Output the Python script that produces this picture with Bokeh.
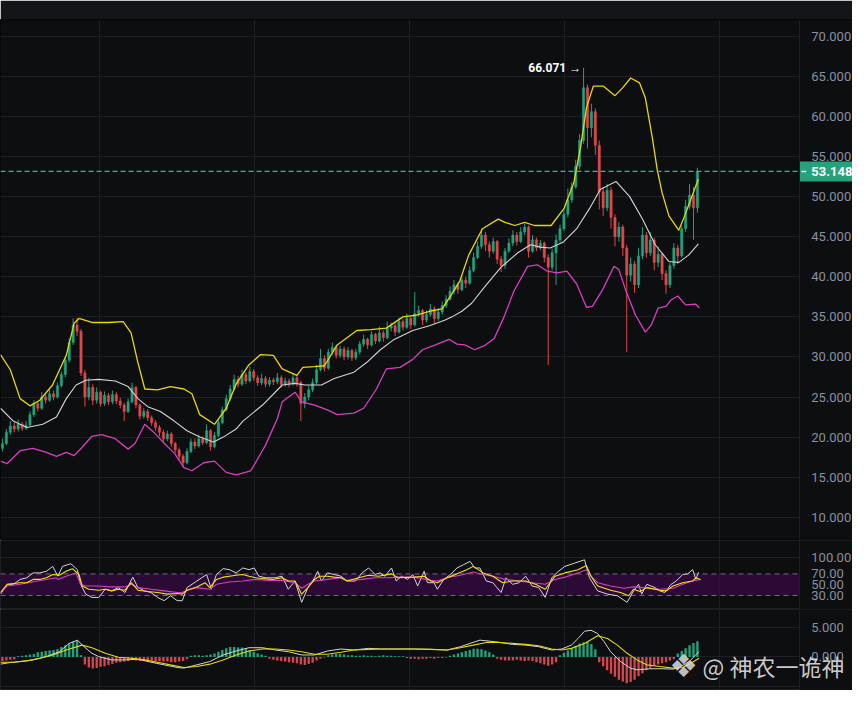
from bokeh.plotting import figure
from bokeh.layouts import column
from bokeh.models import (Range1d, FixedTicker, Span, Label, BoxAnnotation, ColumnDataSource)
from bokeh.core.properties import value
from bokeh.embed import file_html
from bokeh.resources import INLINE

# ---------------- data ----------------
open_first = 18.6
closes = [
    19.2, 20.6, 21.4, 21.0, 21.6, 21.1, 21.5, 22.8, 24.2, 23.6,
    25.0, 24.6, 25.4, 25.0, 26.4, 27.8, 29.6, 31.8, 34.0, 33.2,
    28.0, 25.0, 26.2, 24.6, 25.6, 24.2, 25.2, 24.4, 25.3, 24.5,
    24.0, 23.2, 24.4, 26.2, 24.0, 22.6, 23.2, 22.4, 21.8, 21.2,
    20.6, 19.8, 20.4, 19.2, 18.4, 17.6, 16.8, 18.2, 19.4, 18.9,
    19.8, 19.3, 20.8, 18.8, 20.2, 21.8, 23.4, 24.8, 26.0, 27.2,
    26.6, 27.8, 27.0, 28.2, 27.4, 26.8, 27.3, 26.6, 27.1, 26.9,
    27.4, 26.6, 27.0, 26.7, 27.4, 26.8, 24.2, 25.0, 25.9, 26.8,
    28.4, 29.8, 28.6, 30.6, 31.2, 30.2, 31.0, 30.0, 30.8, 29.9,
    30.6, 31.6, 32.2, 31.5, 32.8, 32.0, 33.0, 32.4, 33.6, 33.9,
    33.1, 34.4, 33.7, 34.8, 34.0, 35.4, 35.8, 34.6, 35.3, 36.0,
    34.8, 35.6, 36.4, 37.2, 38.2, 39.0, 38.4, 39.6, 39.2, 40.8,
    42.4, 43.8, 45.2, 44.0, 43.2, 44.4, 42.2, 41.4, 43.2, 44.2,
    45.2, 44.4, 45.6, 46.2, 43.2, 44.6, 43.6, 44.2, 42.4, 41.2,
    43.0, 44.6, 46.0, 47.8, 49.6, 51.2, 53.8, 57.0, 63.6, 58.6,
    60.6, 56.4, 50.6, 48.6, 50.8, 47.4, 45.0, 46.2, 43.6, 40.2,
    41.6, 39.0, 42.6, 45.2, 43.0, 44.6, 41.8, 42.8, 40.4, 39.0,
    41.4, 43.6, 42.6, 46.0, 48.8, 50.2, 48.6, 53.148]
highs = [
    19.8, 21.0, 22.0, 21.8, 22.2, 21.9, 22.0, 23.2, 24.6, 24.5,
    25.6, 25.3, 25.9, 25.8, 26.8, 28.2, 30.0, 32.3, 34.8, 34.9,
    33.5, 28.4, 27.4, 26.6, 26.2, 25.8, 25.7, 25.5, 25.8, 25.6,
    24.9, 24.3, 24.8, 26.8, 26.4, 24.2, 23.6, 23.5, 22.7, 22.1,
    21.5, 20.9, 20.8, 20.6, 19.4, 18.7, 17.9, 18.6, 19.8, 19.8,
    20.3, 20.1, 21.6, 21.0, 20.6, 22.2, 23.8, 25.3, 26.5, 27.8,
    27.6, 28.4, 28.1, 28.8, 28.5, 27.7, 27.9, 27.6, 27.5, 27.4,
    28.0, 27.7, 27.4, 27.3, 27.9, 27.7, 27.0, 25.5, 26.4, 27.3,
    29.0, 31.0, 30.2, 31.0, 31.8, 31.5, 31.4, 31.3, 31.2, 31.0,
    31.0, 32.0, 32.8, 32.4, 33.2, 33.0, 33.8, 33.3, 34.4, 34.3,
    34.2, 34.9, 34.7, 35.4, 35.0, 38.1, 36.4, 36.0, 35.8, 36.6,
    36.3, 36.1, 36.9, 37.7, 38.8, 39.6, 39.3, 40.2, 40.0, 41.3,
    43.0, 44.4, 46.0, 45.6, 44.4, 44.9, 44.6, 42.6, 43.6, 44.8,
    45.8, 45.6, 46.2, 46.6, 46.4, 45.2, 44.9, 44.6, 44.4, 42.8,
    43.5, 45.3, 46.5, 48.4, 51.0, 51.8, 54.6, 57.8, 66.071, 64.0,
    61.6, 61.0, 57.0, 51.2, 51.6, 51.2, 47.8, 46.8, 46.5, 44.0,
    42.4, 42.0, 43.6, 46.2, 45.6, 45.6, 44.9, 43.8, 43.0, 40.8,
    41.8, 44.2, 44.0, 46.4, 49.6, 51.6, 51.2, 53.6]
lows = [
    18.2, 19.0, 20.3, 20.6, 20.7, 20.8, 20.9, 21.3, 22.5, 23.2,
    23.4, 24.2, 24.4, 24.6, 24.8, 26.2, 27.5, 29.3, 31.5, 32.6,
    27.6, 23.8, 24.6, 24.0, 24.2, 23.8, 23.9, 24.0, 24.1, 24.1,
    23.6, 22.0, 23.0, 24.2, 23.6, 22.2, 22.3, 22.0, 21.4, 20.8,
    20.1, 19.4, 19.5, 18.8, 18.0, 17.1, 16.2, 16.6, 18.0, 18.5,
    18.7, 19.0, 19.1, 18.3, 18.6, 20.0, 21.6, 23.2, 24.5, 25.8,
    26.2, 26.4, 26.6, 26.8, 27.0, 26.4, 26.5, 26.2, 26.3, 26.5,
    26.6, 26.2, 26.3, 26.2, 26.4, 26.3, 22.0, 23.6, 24.6, 25.6,
    26.6, 28.2, 28.2, 28.4, 30.2, 29.8, 29.9, 29.6, 29.7, 29.5,
    29.6, 30.3, 31.3, 31.0, 31.3, 31.6, 31.8, 31.9, 32.2, 33.2,
    32.6, 32.9, 33.3, 33.5, 33.5, 33.8, 35.0, 34.0, 34.3, 35.0,
    34.2, 34.5, 35.3, 36.1, 37.0, 37.8, 37.9, 38.2, 38.6, 39.0,
    40.6, 42.2, 43.5, 43.2, 42.4, 42.9, 41.6, 40.6, 41.0, 43.0,
    43.8, 43.9, 44.2, 45.2, 42.4, 43.0, 43.2, 43.3, 41.8, 29.0,
    40.8, 39.0, 44.3, 45.7, 47.4, 49.2, 51.0, 53.4, 56.6, 56.0,
    57.4, 55.2, 48.4, 47.6, 48.2, 46.0, 43.8, 44.4, 42.6, 30.6,
    39.4, 38.0, 38.6, 42.2, 42.4, 42.6, 40.8, 41.2, 39.6, 37.9,
    38.6, 41.0, 41.6, 42.4, 45.6, 48.4, 44.6, 48.0]

# Bollinger bands (time in candle index, value)
ub_t = [-0.5, 2, 4.5, 7, 9.5, 12.75, 16.25, 18.25, 19.5, 22.75, 27, 30.75, 32.75, 34.5, 36.25,
        39.5, 42.75, 46.25, 48.25, 50.25, 54, 57, 59.5, 62.75, 65.75, 69, 71.25, 75, 76.5, 79.5,
        82, 85.25, 90.25, 93.75, 97.75, 102, 105.25, 108.75, 112, 114.5, 116.5, 118.75, 122.25,
        126.25, 128, 130.5, 133, 135.5, 139.75, 143, 145.5, 147.25, 148.75, 150.5, 153, 156, 158,
        160, 162.25, 163.75, 165.5, 166.75, 168, 169.75, 172.25, 173.75, 177.25]
ub_v = [30.3, 28.4, 24.8, 23.9, 24.6, 26.5, 30.2, 34.2, 34.8, 34.3, 34.3, 34.4, 33.0, 29.3, 26.0,
        25.9, 26.3, 26.0, 25.4, 22.8, 21.6, 23.6, 26.6, 29.0, 30.3, 30.2, 28.5, 27.7, 28.7, 28.8,
        28.9, 31.5, 33.3, 33.4, 33.6, 35.0, 35.2, 35.7, 36.0, 37.9, 39.5, 42.7, 46.0,
        47.2, 46.8, 46.4, 46.8, 46.4, 46.4, 48.5, 51.7, 56.2, 61.1, 63.8, 63.8, 62.6, 63.6,
        64.8, 64.2, 62.3, 57.4, 53.4, 50.5, 47.6, 45.8, 47.6, 52.2]
mb_t = [-0.5, 2.75, 6.25, 10.25, 13.75, 16.25, 18.75, 21.25, 24.5, 28.75, 32, 34.5, 37, 40.25,
        43.75, 47, 50.25, 53.75, 56.25, 59.5, 61.25, 66.25, 71.25, 74.5, 77, 81.25, 84.5, 89.5,
        92.75, 96.25, 99.5, 104.5, 108.75, 112.75, 114.5, 117, 119.5, 122.75, 127, 131.25, 134.5,
        137, 139.5, 142.75, 146.25, 149.5, 152.25, 156.25, 159.75, 163, 166.25, 169.75, 172.25,
        174.75, 177.25]
mb_v = [23.6, 22.0, 21.2, 21.6, 22.5, 24.8, 26.5, 27.1, 27.2, 27.0, 26.3, 24.8, 23.8, 23.2,
        22.0, 20.8, 20.0, 19.4, 20.0, 21.0, 22.0, 24.0, 26.5, 26.7, 26.5, 26.5, 27.3, 28.1,
        29.3, 30.9, 32.1, 33.3, 33.9, 34.6, 35.0, 35.7, 36.7, 38.7, 41.2, 43.0, 44.0,
        43.7, 43.6, 44.3, 46.0, 48.5, 50.9, 51.9, 50.0, 47.2, 44.0, 41.9, 41.8,
        42.7, 44.1]
lb_t = [-0.5, 1.25, 4.5, 7.75, 11.25, 13.75, 16.25, 18.25, 20.25, 22.75, 25.25, 28.75, 32, 33.75,
        36.25, 38.75, 41.25, 43.75, 46.25, 48.25, 51.25, 54, 57, 59.5, 63.25, 67, 70, 71.25, 74.5,
        76.25, 79.5, 82.75, 85.25, 89.5, 92, 95.25, 97.75, 101.25, 104.5, 107, 110.25, 113.75,
        115.75, 117.75, 120.25, 122.75, 125.25, 127.75, 130.25, 133.75, 136.25, 138.75, 141.25,
        143.75, 146.25, 148.75, 150.25, 152.75, 155.75, 157, 158.75, 161.25, 163.75, 165.25, 167,
        169, 170.25, 172, 174, 176.5, 177.5]
lb_v = [17.0, 16.7, 18.3, 18.6, 18.1, 17.6, 18.1, 17.7, 18.7, 20.1, 20.3, 19.8, 18.5, 19.2,
        21.6, 20.5, 19.2, 18.0, 16.2, 15.8, 16.8, 17.0, 15.6, 15.3, 15.8, 19.0, 22.3, 24.4, 25.6,
        24.4, 24.0, 23.4, 22.8, 23.0, 23.6, 26.0, 28.5, 28.7, 29.7, 30.9, 31.5, 32.2,
        31.6, 31.5, 30.9, 31.4, 32.3, 35.0, 38.2, 41.3, 41.5, 40.7, 40.5,
        40.7, 39.1, 36.2, 36.3, 38.3, 41.3, 40.9, 38.3, 35.2, 33.1, 34.0, 36.1,
        36.3, 37.1, 37.6, 36.5, 36.6, 36.1]

# RSI lines
r6_t = [-0.5, 1.2, 2.8, 4.5, 6.2, 7.8, 9.5, 11.2, 12.8, 14.1, 15.3, 17.4, 19.1, 19.9, 21.2, 22.8,
        24.5, 26.2, 27.8, 29.5, 31.2, 33.2, 34.5, 36.2, 37.8, 39.5, 41.2, 42.8, 44.5, 45.8, 47,
        49.5, 52, 53.2, 54.5, 56.2, 57.8, 59.5, 61.2, 62.8, 64.1, 65.3, 67, 69.5, 71.2, 72.8,
        74.5, 76.2, 77.8, 79.5, 80.3, 81.2, 82.8, 84.5, 86.2, 87.8, 89.9, 91.6, 93.25, 94.9,
        96.2, 97.4, 99.1, 100.3, 101.6, 103.25, 104.5, 105.75, 107.4, 108.25, 109.9, 110.75,
        112.4, 114.1, 115.75, 117.4, 119.1, 120.3, 121.6, 123.25, 124.9, 127, 128.25, 129.9,
        131.6, 133.25, 134.9, 136.6, 138.25, 139.9, 141.6, 143.25, 145.75, 148.25, 149.5, 151.6,
        154.1, 156.6, 159.1, 160.75, 162, 162.8, 164.1, 166.2, 167.4, 168.7, 170.3, 171.6,
        173.25, 174.5, 175.8, 176.6, 177.3]
r6_v = [32.5, 50.7, 50.7, 59.8, 62.8, 71.9, 71.9, 74.9, 84.0, 65.8, 84.0, 88.9, 77.9, 50.7, 32.5,
        26.4, 26.4, 41.6, 38.6, 44.6, 35.5, 64.0, 44.6, 38.6, 35.5, 26.4, 20.4, 29.5, 20.4, 20.4,
        44.6, 56.8, 68.9, 41.6, 68.9, 79.8, 77.9, 71.9, 81.0, 77.9, 81.0, 65.8, 62.8, 62.8, 65.8,
        41.6, 56.8, 17.3, 44.6, 62.8, 74.9, 56.8, 71.9, 68.9, 65.8, 56.8, 56.8, 71.9, 81.0, 68.9,
        71.9, 65.8, 81.0, 56.8, 65.8, 59.8, 68.9, 47.6, 74.9, 53.7, 53.7, 41.6, 59.8, 68.9, 81.0,
        87.1, 93.2, 81.0, 81.0, 56.8, 53.7, 35.5, 62.8, 50.7, 53.7, 65.8, 47.6, 44.6, 26.4, 62.8,
        74.9, 84.0, 90.1, 96.2, 62.8, 38.6, 32.5, 29.5, 17.3, 38.6, 50.7, 32.5, 50.7, 44.6, 38.6,
        35.5, 50.7, 56.8, 68.9, 70.0, 78.0, 60.0, 73.0]
r12_t = [-0.5, 1.2, 4.5, 6.2, 7.8, 9.5, 11.2, 12.8, 14.5, 16.2, 17.8, 19.5, 20.3, 22, 24.5, 26.2,
         27.8, 29.5, 31.2, 32.8, 34.5, 37, 39.5, 42, 44.5, 45.75, 47, 49.5, 51.6, 52.8, 54.5, 56.2,
         57.8, 59.5, 61.2, 62.8, 64.5, 66.2, 68.7, 71.2, 72.8, 74.5, 76.2, 77.8, 79.5, 80.75, 82.8,
         84.5, 86.2, 87.8, 90.75, 93.25, 95.75, 99.1, 100.75, 104.9, 107.4, 109.1, 110.75, 113.25,
         115.75, 118.25, 119.9, 122.4, 124.9, 127.4, 129.9, 133.25, 135.75, 138.25, 140.75,
         143.25, 146.6, 148.7, 149.9, 151.6, 154.9, 157.4, 159.5, 160.75, 162.4, 164.1, 167.4,
         169.1, 170.75, 173.25, 175.75, 176.6, 177.8]
r12_v = [35.5, 50.7, 53.7, 53.7, 59.8, 59.8, 62.8, 68.9, 67.6, 74.9, 79.8, 68.9, 47.6, 41.6, 39.8,
         41.6, 38.6, 41.6, 39.8, 53.7, 39.8, 37.4, 35.5, 32.5, 33.7, 32.5, 39.8, 45.9, 53.7, 44.6,
         59.8, 64.0, 65.8, 67.6, 68.9, 65.8, 62.8, 61.6, 59.8, 62.8, 56.8, 56.8, 32.5, 44.6, 59.8,
         65.8, 65.8, 64.0, 62.8, 56.8, 62.8, 67.6, 65.8, 70.1, 62.8, 64.0, 65.8, 56.8, 53.7, 62.8,
         70.1, 77.9, 84.0, 71.9, 65.8, 53.7, 56.8, 56.8, 50.7, 41.6, 65.8, 71.9, 77.9, 85.8, 65.8,
         47.6, 39.8, 35.5, 29.5, 41.6, 37.4, 44.6, 39.8, 38.6, 47.6, 53.7, 56.8, 62.8, 59.8]
r24_t = [-0.5, 1.2, 4.5, 7.8, 11.2, 13.7, 14.1, 16.2, 18.7, 19.9, 21.2, 24.5, 27.8, 31.2, 32.8,
         34.5, 37.8, 41.2, 44.5, 45.75, 47, 49.5, 52.8, 54.5, 57.8, 61.2, 64.5, 67.8, 71.2, 74.5,
         76.2, 77.8, 79.5, 82.8, 86.2, 87.8, 91.6, 94.9, 98.25, 100.75, 104.9, 109.1, 110.75,
         113.25, 116.6, 119.9, 122.4, 124.9, 128.25, 131.6, 134.9, 138.25, 140.75, 143.25, 146.6,
         148.7, 149.9, 151.6, 154.9, 158.25, 160.75, 163.25, 167.4, 170.75, 173.25, 175.75, 177.8]
r24_v = [35.5, 47.6, 50.7, 55.5, 59.8, 62.8, 59.8, 65.8, 71.9, 50.7, 47.6, 47.6, 45.9, 45.9, 50.7,
         44.6, 41.6, 38.6, 35.5, 35.5, 39.8, 44.6, 41.6, 50.7, 54.9, 56.8, 59.8, 58.0, 58.0, 53.7,
         43.4, 50.7, 56.8, 59.8, 62.8, 58.0, 59.8, 62.8, 62.8, 64.0, 64.0, 58.0, 56.8,
         62.8, 67.6, 73.7, 68.9, 65.8, 59.8, 56.8, 53.7, 50.7, 59.8, 64.0, 71.9,
         77.9, 65.8, 53.7, 47.6, 43.4, 45.9, 44.6, 41.6, 43.4, 50.7, 56.8, 59.8]

# MACD
hist = [
    -0.7, -0.6, -0.5, -0.4,
    0.1, 0.2, 0.3, 0.4, 0.5,
    0.8, 0.9, 1.0, 1.1, 1.2, 1.3,
    1.7, 2.0, 2.3, 2.6, 2.8, 0.3,
    -1.3, -1.8, -2.0, -1.9,
    -1.7, -1.6, -1.4, -1.2, -1.0, -0.9, -0.8, -0.7,
    -0.4, -0.6, -0.7, -0.7, -0.6, -0.6, -0.7, -0.7, -0.8, -0.8, -0.9, -0.9, -0.8, -0.7, -0.4,
    0.2, 0.3, 0.3, 0.2, 0.3,
    0.4, 0.6, 0.9, 1.2, 1.5, 1.7, 1.7, 1.6, 1.6, 1.5,
    1.2, 0.9, 0.6, 0.4, 0.2,
    -0.3, -0.5, -0.6, -0.7, -0.8, -0.9, -1.0, -1.1, -1.3, -1.4, -1.2, -1.0,
    -0.6, -0.3, -0.1,
    0.3, 0.4, 0.5, 0.5, 0.4,
    0.3, 0.3, 0.2, 0.2, 0.3, 0.2, 0.2, 0.1, 0.2, 0.3, 0.2, 0.2, 0.1, 0.1, 0.1,
    -0.2, -0.3, -0.3, -0.4, -0.3, -0.3, -0.2, -0.3, -0.2, -0.2, -0.1,
    0.2, 0.4, 0.6, 0.8, 1.0, 1.2, 1.4, 1.4, 1.3, 1.1, 0.8, 0.4,
    -0.3, -0.5, -0.6, -0.6, -0.6, -0.5, -0.6, -0.7, -0.6, -0.7,
    -0.9, -1.1, -1.3, -1.5, -1.3, -0.9,
    0.3, 0.7, 1.1, 1.5, 1.9, 2.3, 2.5, 2.6, 2.2, 1.3,
    -0.9, -1.6, -2.3, -2.9, -3.4, -3.9, -4.2, -4.5, -4.3,
    -3.9, -3.3, -2.8, -2.3, -1.9, -1.5, -1.3, -1.1, -0.9, -0.6, -0.4,
    0.6, 1.0, 1.5, 2.0, 2.4, 2.7]
dif_t = [-0.5, 2, 4.5, 7.8, 11.2, 14.5, 17, 19.1, 20.3, 22.8, 24.5, 27.8, 31.2, 34.5, 37.8, 41.2,
         44.5, 46.2, 49.5, 52.8, 56.2, 59.5, 62.8, 66.2, 69.5, 72.8, 76.2, 79.5, 82.8, 86.2, 89.5,
         93.25, 96.6, 100.75, 104.9, 109.1, 113.25, 116.6, 119.1, 121.6, 124.1, 126.6, 129.9,
         133.25, 136.6, 139.9, 142.4, 144.9, 146.6, 148.25, 149.9, 151.6, 153.25, 154.9, 157.4,
         159.9, 161.6, 164.9, 168.25, 170.75, 172.4, 174.9, 177.4]
dif_v = [-1.24, -0.96, -0.79, -0.51, 0.06, 0.90, 2.32, 2.88, 2.03, 0.62, 0.06, -0.51, -0.51, -0.40,
         -0.90, -1.36, -1.81, -1.92, -1.36, -0.79, 0.34, 1.02, 1.58, 1.58, 1.19, 0.90, 0.34, 0.34,
         1.02, 1.36, 1.19, 1.47, 1.36, 1.36, 1.36, 1.30, 1.19, 1.75, 2.32, 2.88, 2.71, 2.49, 2.15,
         2.03, 1.75, 1.19, 1.36, 2.03, 3.16, 4.41, 4.58, 4.01, 2.60, 0.90, -0.79, -1.92, -2.20,
         -2.03, -2.03, -2.09, -1.81, -0.79, 0.90]
dea_t = [-0.5, 2.8, 6.2, 9.5, 12.8, 16.2, 20.3, 22.8, 26.2, 29.5, 32.8, 36.2, 39.5, 42.8, 46.2,
         49.5, 52.8, 56.2, 59.5, 62.8, 66.2, 69.5, 72.8, 76.2, 79.5, 82.8, 86.2, 89.5, 93.25, 96.6,
         100.75, 104.9, 109.1, 113.25, 116.6, 119.9, 123.25, 126.6, 129.9, 133.25, 136.6, 139.9,
         142.4, 144.9, 148.25, 151.6, 154.1, 156.6, 159.1, 161.6, 164.1, 167.4, 170.75, 173.25,
         175.75, 177.4]
dea_v = [-0.90, -0.90, -0.68, -0.23, 0.34, 1.19, 2.03, 1.58, 0.62, -0.06, -0.23, -0.51, -0.90,
         -1.36, -1.81, -1.64, -1.24, -0.51, 0.34, 1.02, 1.36, 1.36, 1.19, 0.90, 0.45, 0.45, 0.79,
         1.19, 1.30, 1.36, 1.36, 1.36, 1.30, 1.19, 1.58, 2.03, 2.49, 2.49, 2.32, 2.15, 1.92, 1.36,
         1.19, 1.47, 2.32, 3.62, 3.16, 2.03, 0.62, -0.51, -1.36, -1.64, -1.92, -1.81, -0.90, -0.23]

price_ticks = [10, 15, 20, 25, 30, 35, 40, 45, 50, 55, 60, 65, 70]
rsi_ticks = [30, 50, 70, 100]
rsi_levels = [30, 70]
macd_ticks = [0, 5]
macd_grid = [-5, 0, 5]
time_grid = [24.75, 64.25, 103.75, 143.25, 182.75]
peak_label = "66.071 →"
watermark = "@ 神农一诡神"
logo = "❖"

# ---------------- styling / layout ----------------
BG = "#0d0e10"
HEADER = "#141518"
GRID = "#1d1f24"
TXT = "#8790a2"
UP = "#22a37d"
DN = "#e0474c"
YEL = "#e8d60e"
WHT = "#d4d4d4"
PNK = "#d83fbf"
PRICE_GREEN = "#26a17b"
W = 852
SEP = 203.0          # end of the chart area (candle-index units)
XEND = 216.5         # right edge of the page (price-scale column)
LAB_X = SEP + 3.0    # where the price-scale labels start
xr = Range1d(-0.5, XEND)


def make_fig(h, y0, y1, top=0):
    f = figure(width=W, height=h, x_range=xr, y_range=Range1d(y0, y1),
               output_backend="svg", toolbar_location=None,
               x_axis_location=None, y_axis_location=None,
               min_border_left=0, min_border_right=0, min_border_top=top,
               min_border_bottom=0, background_fill_color=BG,
               border_fill_color=BG, outline_line_color=GRID)
    f.xgrid.ticker = FixedTicker(ticks=time_grid)
    f.xgrid.grid_line_color = GRID
    f.ygrid.grid_line_color = GRID
    # price-scale column: hide grid lines there, separate it with a line
    f.add_layout(BoxAnnotation(left=SEP, fill_color=BG, fill_alpha=1, line_color=None,
                               level="underlay"))
    f.add_layout(Span(location=SEP, dimension="height", line_color=GRID, line_width=1))
    return f


def scale_labels(f, ticks, fmt):
    f.text(x=[LAB_X] * len(ticks), y=ticks, text=[fmt.format(t) for t in ticks],
           text_font=value("Roboto"), text_font_size="13px", text_color=TXT,
           text_baseline="middle", text_align="left")


# ---------------- main price panel ----------------
p1 = make_fig(540, 7.1, 72.1, top=19)
p1.border_fill_color = HEADER
p1.outline_line_color = "#050506"
p1.ygrid.ticker = FixedTicker(ticks=price_ticks)
scale_labels(p1, price_ticks, "{:.3f}")

opens = [open_first] + closes[:-1]
xs = list(range(len(closes)))
cols = [UP if c >= o else DN for o, c in zip(opens, closes)]
src = ColumnDataSource(dict(
    x=xs, h=highs, l=lows,
    bt=[max(o, c) for o, c in zip(opens, closes)],
    bb=[min(o, c) for o, c in zip(opens, closes)],
    col=cols))
p1.segment(x0="x", y0="h", x1="x", y1="l", line_color="col", line_width=1, source=src)
p1.vbar(x="x", width=0.58, top="bt", bottom="bb", fill_color="col",
        line_color="col", line_width=0.5, source=src)

p1.line(lb_t, lb_v, line_color=PNK, line_width=1.3)
p1.line(mb_t, mb_v, line_color=WHT, line_width=1.1)
p1.line(ub_t, ub_v, line_color=YEL, line_width=1.3)

last = closes[-1]
p1.segment(x0=[-0.5], y0=[last], x1=[SEP], y1=[last], line_color="#1fc493",
           line_dash="5 3", line_width=1.2)
p1.quad(left=[SEP], right=[XEND], bottom=[last - 1.25], top=[last + 1.25],
        fill_color=PRICE_GREEN, line_color=None)
p1.segment(x0=[SEP + 0.5], y0=[last], x1=[SEP + 1.7], y1=[last], line_color="white",
           line_width=1.5)
p1.text(x=[LAB_X], y=[last], text=[f"{last:.3f}"], text_font=value("Roboto"),
        text_font_size="13px", text_font_style="bold", text_color="white",
        text_baseline="middle", text_align="left")

peak_i = highs.index(max(highs))
p1.add_layout(Label(x=peak_i - 0.6, y=max(highs), text=peak_label, text_color="white",
                    text_font="Roboto", text_font_size="12px", text_font_style="bold",
                    text_align="right", text_baseline="middle"))

# ---------------- RSI panel ----------------
p2 = make_fig(69, 4, 132)
p2.ygrid.ticker = FixedTicker(ticks=[100])
scale_labels(p2, rsi_ticks, "{:.2f}")
p2.quad(left=[-0.5], right=[SEP], bottom=[rsi_levels[0]], top=[rsi_levels[1]],
        fill_color="#2b0b36", line_color=None, level="underlay")
p2.segment(x0=[-0.5] * 2, y0=rsi_levels, x1=[SEP] * 2, y1=rsi_levels,
           line_color="#6f6f7c", line_dash="5 4", line_width=1)
p2.line(r6_t, r6_v, line_color=WHT, line_width=1)
p2.line(r24_t, r24_v, line_color=PNK, line_width=1.1)
p2.line(r12_t, r12_v, line_color="#f2e21a", line_width=1.1)

# ---------------- MACD panel ----------------
p3 = make_fig(81, -5.76, 8.14)
p3.ygrid.ticker = FixedTicker(ticks=macd_grid)
scale_labels(p3, macd_ticks, "{:.3f}")
hsrc = ColumnDataSource(dict(x=xs, top=hist,
                             col=["#20a37c" if v >= 0 else "#d9434b" for v in hist]))
p3.vbar(x="x", width=0.6, top="top", bottom=0, fill_color="col", line_color=None, source=hsrc)
p3.line(dif_t, dif_v, line_color=WHT, line_width=1)
p3.line(dea_t, dea_v, line_color=YEL, line_width=1.1)

p3.add_layout(Label(x=683, y=25, x_units="screen", y_units="screen", text=logo,
                    text_color="#d6d6d6", text_alpha=0.9, text_font="DejaVu Sans",
                    text_font_size="32px", text_align="center", text_baseline="middle"))
p3.add_layout(Label(x=702, y=25, x_units="screen", y_units="screen", text=watermark,
                    text_color="#dedede", text_alpha=0.92, text_font="Noto Sans CJK SC",
                    text_font_size="23px", text_align="left", text_baseline="middle"))

layout = column(p1, p2, p3)
open("out.html", "w").write(file_html(layout, INLINE))
